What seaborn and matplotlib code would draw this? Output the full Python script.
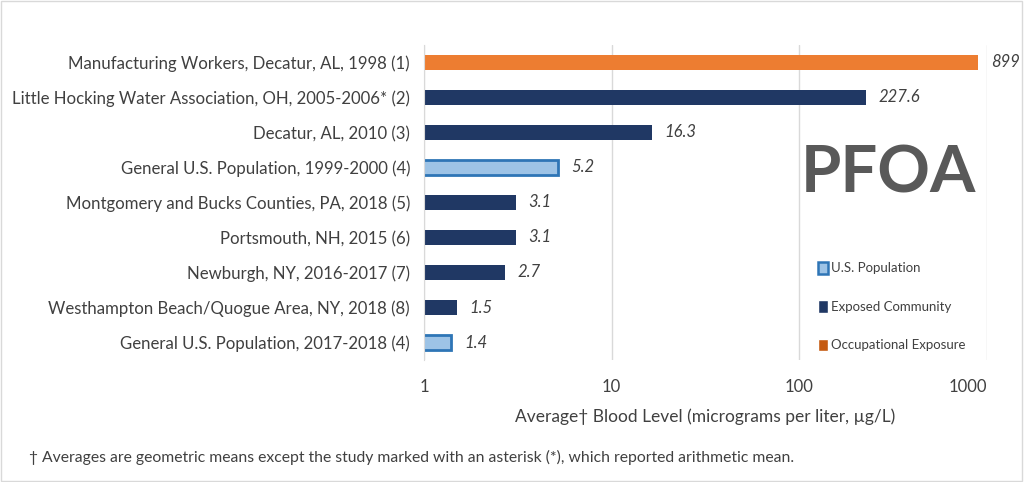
import pandas as pd
import seaborn as sns
import matplotlib.pyplot as plt
from matplotlib.patches import Patch

# data
studies = [
    "Manufacturing Workers, Decatur, AL, 1998 (1)",
    "Little Hocking Water Association, OH, 2005-2006* (2)",
    "Decatur, AL, 2010 (3)",
    "General U.S. Population, 1999-2000 (4)",
    "Montgomery and Bucks Counties, PA, 2018 (5)",
    "Portsmouth, NH, 2015 (6)",
    "Newburgh, NY, 2016-2017 (7)",
    "Westhampton Beach/Quogue Area, NY, 2018 (8)",
    "General U.S. Population, 2017-2018 (4)",
]
levels = [899, 227.6, 16.3, 5.2, 3.1, 3.1, 2.7, 1.5, 1.4]
value_labels = ["899", "227.6", "16.3", "5.2", "3.1", "3.1", "2.7", "1.5", "1.4"]
groups = ["Occupational Exposure", "Exposed Community", "Exposed Community",
          "U.S. Population", "Exposed Community", "Exposed Community",
          "Exposed Community", "Exposed Community", "U.S. Population"]

palette = {"U.S. Population": "#9DC3E6",
           "Exposed Community": "#203864",
           "Occupational Exposure": "#ED7D31"}

df = pd.DataFrame({"study": studies, "level": levels, "group": groups})

sns.set_style("white")
plt.rcParams['font.family'] = ['Lato', 'DejaVu Sans']

fig = plt.figure(figsize=(10.24, 4.82), dpi=100)
ax = fig.add_axes([0.414, 0.253, 0.55, 0.654])

sns.barplot(data=df, y="study", x="level", hue="group", palette=palette,
            dodge=False, width=0.42, orient="h", ax=ax, legend=False,
            linewidth=0, saturation=1)
ax.set_xscale("log")
ax.set_xlim(1, 1000)
ax.set_ylim(8.5, -0.5)

# outline the U.S. population bars
for patch in ax.patches:
    fc = patch.get_facecolor()
    if abs(fc[0] - 0x9D / 255) < 0.02 and patch.get_width() > 0:
        patch.set_edgecolor("#2E75B6")
        patch.set_linewidth(2)

# value labels
for i, (v, lab) in enumerate(zip(levels, value_labels)):
    ax.annotate(lab, (v, i), xytext=(9, 0), textcoords="offset points",
                va="center", ha="left", fontsize=12, style="italic",
                color="#404040")

ax.set_xticks([1, 10, 100, 1000])
ax.set_xticklabels(["1", "10", "100", "1000"])
ax.get_xticklabels()[-1].set_ha("right")
ax.minorticks_off()
ax.tick_params(axis="x", length=0, pad=14, labelsize=12, labelcolor="#404040")
ax.tick_params(axis="y", length=0, pad=10, labelsize=12.1, labelcolor="#404040")
ax.grid(axis="x", color="#D9D9D9", linewidth=1)
ax.set_axisbelow(True)
for s in ["top", "right", "bottom"]:
    ax.spines[s].set_visible(False)
ax.spines["left"].set_color("#D9D9D9")
ax.set_ylabel("")
ax.set_xlabel("Average\u2020 Blood Level (micrograms per liter, \u00b5g/L)",
              fontsize=12.5, color="#404040", labelpad=9)

ax.text(0.825, 0.59, "PFOA", transform=ax.transAxes, fontsize=47,
        fontweight="bold", color="#595959", ha="center", va="center")

handles = [Patch(facecolor="#9DC3E6", edgecolor="#2E75B6", linewidth=1.8),
           Patch(facecolor="#203864"),
           Patch(facecolor="#C55A11")]
leg = ax.legend(handles, ["U.S. Population", "Exposed Community",
                          "Occupational Exposure"],
                loc="lower left", bbox_to_anchor=(0.685, 0.0), frameon=True,
                fontsize=9.5, labelspacing=1.95, handlelength=0.7,
                handleheight=1.1, handletextpad=0.25, borderpad=0.35,
                borderaxespad=0.3)
leg.get_frame().set_edgecolor("white")
leg.get_frame().set_facecolor("white")
leg.get_frame().set_alpha(1)
for t in leg.get_texts():
    t.set_color("#404040")

fig.text(0.028, 0.05, "\u2020 Averages are geometric means except the study marked "
         "with an asterisk (*), which reported arithmetic mean.",
         fontsize=11.3, color="#404040", va="center")

fig.patches.append(plt.Rectangle((0.001, 0.002), 0.997, 0.995, transform=fig.transFigure,
                                 fill=False, edgecolor="#D9D9D9", linewidth=1))

fig.savefig("out.png", dpi=100)
